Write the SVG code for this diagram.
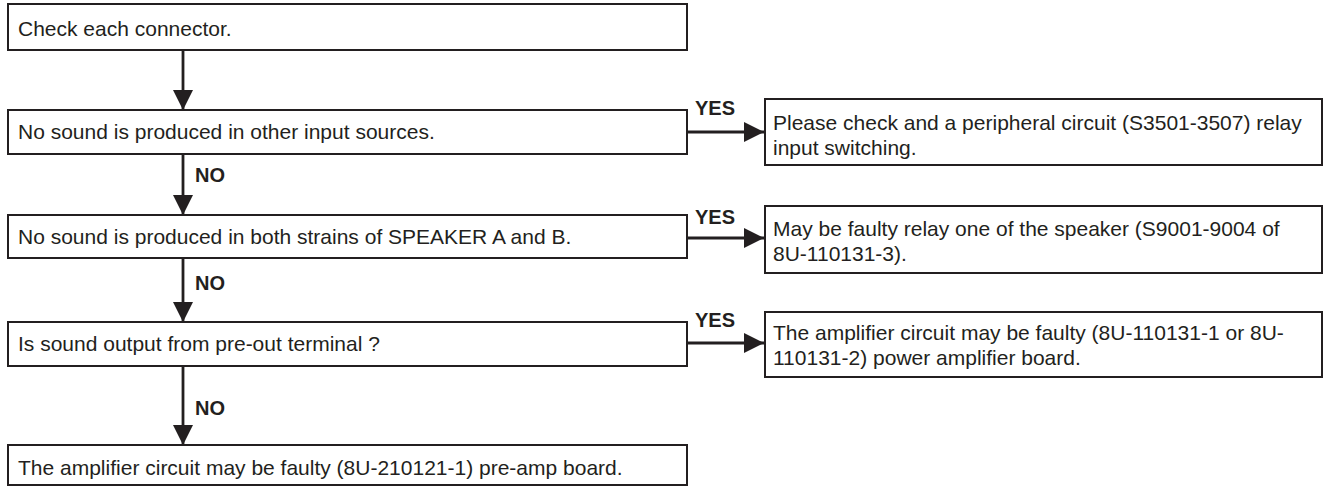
<svg xmlns="http://www.w3.org/2000/svg" width="1327" height="486" viewBox="0 0 1327 486">
<defs>
<style>
.box{fill:#fff;stroke:#231f20;stroke-width:2}
.t{font-family:"Liberation Sans",Arial,sans-serif;font-size:21px;fill:#231f20}
.lbl{font-family:"Liberation Sans",Arial,sans-serif;font-size:20px;font-weight:bold;fill:#231f20}
.c{stroke:#231f20;stroke-width:2.8;fill:none}
</style>
<marker id="ah" viewBox="0 0 20 20" refX="20" refY="10" markerWidth="20" markerHeight="20" markerUnits="userSpaceOnUse" orient="auto">
<path d="M0,0 L20,10 L0,20 Z" fill="#231f20"/>
</marker>
</defs>
<rect width="1327" height="486" fill="#fff"/>
<g id="connectors">
<line class="c" x1="183" y1="50" x2="183" y2="110" marker-end="url(#ah)"/>
<line class="c" x1="183" y1="154" x2="183" y2="215" marker-end="url(#ah)"/>
<line class="c" x1="183" y1="258" x2="183" y2="322" marker-end="url(#ah)"/>
<line class="c" x1="183" y1="366" x2="183" y2="445" marker-end="url(#ah)"/>
<line class="c" x1="687" y1="132" x2="764" y2="132" marker-end="url(#ah)"/>
<line class="c" x1="687" y1="238" x2="764" y2="238" marker-end="url(#ah)"/>
<line class="c" x1="687" y1="343" x2="764" y2="343" marker-end="url(#ah)"/>
<text class="lbl" x="195" y="182">NO</text>
<text class="lbl" x="195" y="290">NO</text>
<text class="lbl" x="195" y="415">NO</text>
<text class="lbl" x="695" y="115">YES</text>
<text class="lbl" x="695" y="224">YES</text>
<text class="lbl" x="695" y="327">YES</text>
</g>
<g id="n1"><rect class="box" x="8" y="4" width="679" height="46"/><text class="t" x="18" y="36">Check each connector.</text></g>
<g id="n2"><rect class="box" x="8" y="110" width="679" height="44"/><text class="t" x="18" y="139">No sound is produced in other input sources.</text></g>
<g id="n3"><rect class="box" x="8" y="215" width="679" height="43"/><text class="t" x="18" y="244">No sound is produced in both strains of SPEAKER A and B.</text></g>
<g id="n4"><rect class="box" x="8" y="322" width="679" height="44"/><text class="t" x="18" y="351">Is sound output from pre-out terminal ?</text></g>
<g id="n5"><rect class="box" x="8" y="445" width="679" height="40"/><text class="t" x="18" y="475">The amplifier circuit may be faulty (8U-210121-1) pre-amp board.</text></g>
<g id="r1"><rect class="box" x="765" y="99" width="557" height="66"/><text class="t" x="773" y="130">Please check and a peripheral circuit (S3501-3507) relay</text><text class="t" x="773" y="155">input switching.</text></g>
<g id="r2"><rect class="box" x="765" y="206" width="557" height="67"/><text class="t" x="773" y="236">May be faulty relay one of the speaker (S9001-9004 of</text><text class="t" x="773" y="261">8U-110131-3).</text></g>
<g id="r3"><rect class="box" x="765" y="312" width="557" height="65"/><text class="t" x="773" y="340">The amplifier circuit may be faulty (8U-110131-1 or 8U-</text><text class="t" x="773" y="365">110131-2) power amplifier board.</text></g>
</svg>
